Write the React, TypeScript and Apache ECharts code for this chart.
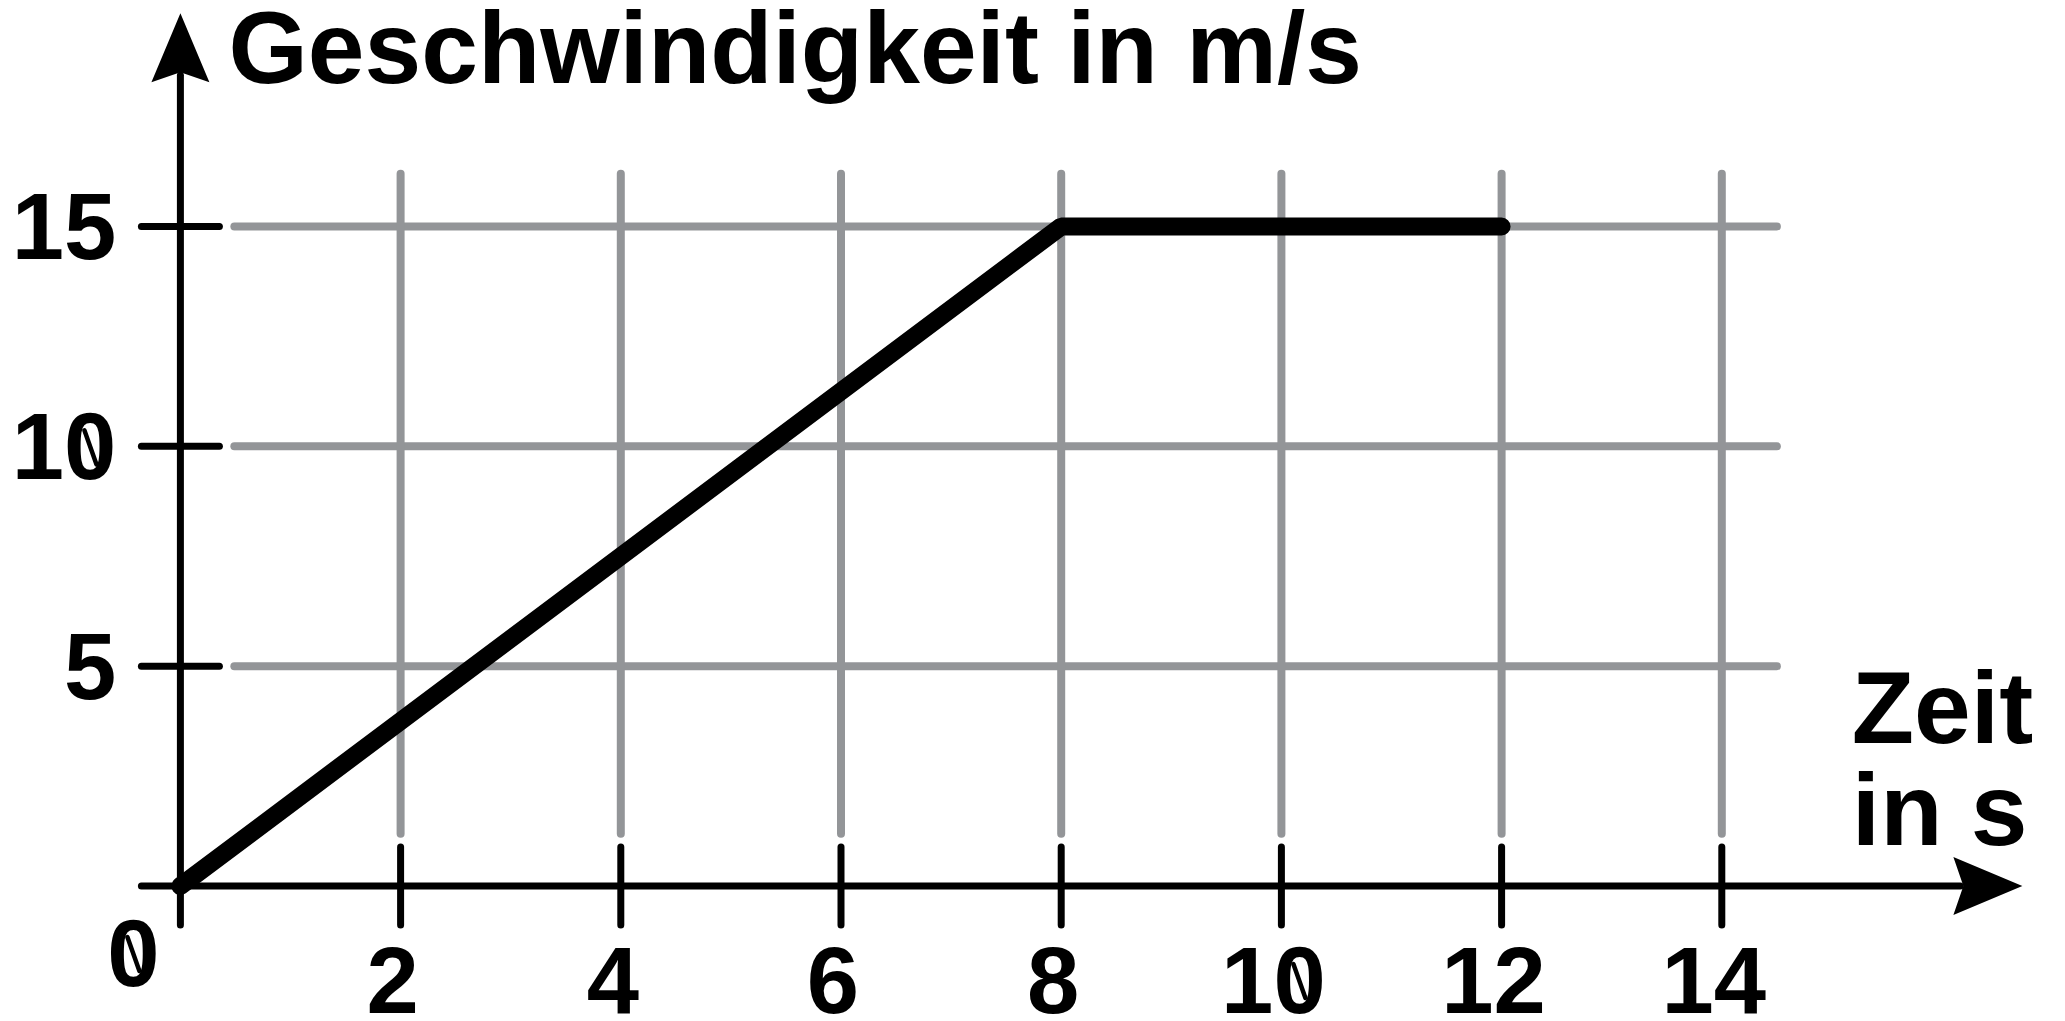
import React, { useEffect, useRef } from 'react';
import * as echarts from 'echarts';

const xTicks = [0, 2, 4, 6, 8, 10, 12, 14];
const yTicks = [5, 10, 15];
const timeValues = [0, 8, 12];
const speedValues = [0, 15, 15];
const yTitle = 'Geschwindigkeit in m/s';
const xTitle = 'Zeit\nin s';
const originLabel = '0';

const W = 2065;
const H = 1021;
const GRAY = '#939598';
const FONT = '"Liberation Sans", Arial, Helvetica, sans-serif';

export default function App() {
  const ref = useRef<HTMLDivElement>(null);
  useEffect(() => {
    const chart = echarts.init(ref.current as HTMLDivElement, null, { renderer: 'svg' });
    const gridExtent = { xFrom: 0.49, xTo: 14.5, yFrom: 1.19, yTo: 16.2 };
    const axisExtent = { xEnd: 16.73, yEnd: 19.85 };
    const tickHalf = 39;
    const xLabelMargin = 54;
    const yLabelMargin = 64;
    const labelLine = 80;
    const digitW = 52;

    const seg = (a: number[], b: number[], color: string, lw: number) => ({
      type: 'line',
      shape: { x1: a[0], y1: a[1], x2: b[0], y2: b[1] },
      style: { stroke: color, lineWidth: lw, lineCap: 'round' },
    });
    // slashed-zero stroke, as in the reference's digit style
    const slash = (cx: number, cy: number) => ({
      type: 'line',
      shape: { x1: cx - 6, y1: cy - 17, x2: cx + 6, y2: cy + 17 },
      style: { stroke: '#000', lineWidth: 4.5, lineCap: 'round' },
    });

    chart.setOption({
      animation: false,
      backgroundColor: '#fff',
      grid: { left: 180.4, right: 343.2, top: 226.5, bottom: 135, outerBoundsMode: 'none' },
      xAxis: {
        type: 'value',
        min: 0,
        max: 14,
        interval: 2,
        axisLine: { show: false },
        axisTick: { show: false },
        splitLine: { show: false },
        axisLabel: {
          margin: xLabelMargin,
          fontSize: 94,
          lineHeight: labelLine,
          fontWeight: 'bold',
          fontFamily: FONT,
          color: '#000',
          padding: [0, 16, 0, 0],
          formatter: (v: number) => (v === 0 ? '' : String(v)),
        },
      },
      yAxis: {
        type: 'value',
        min: 0,
        max: 15,
        interval: 5,
        axisLine: { show: false },
        axisTick: { show: false },
        splitLine: { show: false },
        axisLabel: {
          margin: yLabelMargin,
          fontSize: 94,
          lineHeight: labelLine,
          fontWeight: 'bold',
          fontFamily: FONT,
          color: '#000',
          showMinLabel: false,
          formatter: (v: number) => (v === 0 ? '' : String(v)),
        },
        name: yTitle,
        nameLocation: 'end',
        nameGap: 179,
        nameTextStyle: {
          fontSize: 102,
          lineHeight: 80,
          fontWeight: 'bold',
          fontFamily: FONT,
          color: '#000',
          align: 'left',
          verticalAlign: 'middle',
          padding: [0, 0, 0, 48],
        },
      },
      series: [
        {
          type: 'custom',
          coordinateSystem: 'cartesian2d',
          silent: true,
          z: 1,
          data: [[0, 0]],
          renderItem: (_p: any, api: any) => {
            const children: any[] = [];
            yTicks.forEach((v) => {
              children.push(seg(api.coord([gridExtent.xFrom, v]), api.coord([gridExtent.xTo, v]), GRAY, 8));
            });
            xTicks.forEach((v) => {
              if (v === 0) return;
              children.push(seg(api.coord([v, gridExtent.yFrom]), api.coord([v, gridExtent.yTo]), GRAY, 8));
            });
            return { type: 'group', children };
          },
        },
        {
          type: 'custom',
          coordinateSystem: 'cartesian2d',
          silent: true,
          z: 2,
          data: [[0, 0]],
          renderItem: (_p: any, api: any) => {
            const o = api.coord([0, 0]);
            const xe = api.coord([axisExtent.xEnd, 0]);
            const ye = api.coord([0, axisExtent.yEnd]);
            const xm = api.coord([14, 0]);
            const children: any[] = [];
            children.push(seg([o[0] - tickHalf, o[1]], [xe[0] - 62, o[1]], '#000', 7));
            children.push(seg([o[0], o[1] + tickHalf], [o[0], ye[1] + 62], '#000', 7));
            children.push({
              type: 'polygon',
              shape: { points: [[xe[0], o[1]], [xe[0] - 69, o[1] - 29], [xe[0] - 59, o[1]], [xe[0] - 69, o[1] + 29]] },
              style: { fill: '#000' },
            });
            children.push({
              type: 'polygon',
              shape: { points: [[o[0], ye[1]], [o[0] - 29, ye[1] + 69], [o[0], ye[1] + 59], [o[0] + 29, ye[1] + 69]] },
              style: { fill: '#000' },
            });
            xTicks.forEach((v) => {
              if (v === 0) return;
              const p = api.coord([v, 0]);
              children.push(seg([p[0], p[1] - tickHalf], [p[0], p[1] + tickHalf], '#000', 7));
              if (v === 10) {
                children.push(slash(p[0] - 8 + digitW / 2, p[1] + xLabelMargin + labelLine / 2 + 1));
              }
            });
            yTicks.forEach((v) => {
              const p = api.coord([0, v]);
              children.push(seg([p[0] - tickHalf, p[1]], [p[0] + tickHalf, p[1]], '#000', 7));
              if (v === 10) {
                children.push(slash(p[0] - yLabelMargin - digitW / 2, p[1] + 1));
              }
            });
            const zx = o[0] - 47;
            const zy = o[1] + 67;
            children.push({
              type: 'text',
              x: zx,
              y: zy,
              style: {
                text: originLabel,
                fontSize: 94,
                lineHeight: 80,
                fontWeight: 'bold',
                fontFamily: FONT,
                fill: '#000',
                align: 'center',
                verticalAlign: 'middle',
              },
            });
            children.push(slash(zx, zy + 1));
            children.push({
              type: 'text',
              x: xm[0] + 130,
              y: o[1] - 127,
              style: {
                text: xTitle,
                fontSize: 102,
                lineHeight: 102,
                fontWeight: 'bold',
                fontFamily: FONT,
                fill: '#000',
                align: 'left',
                verticalAlign: 'middle',
              },
            });
            return { type: 'group', children };
          },
        },
        {
          type: 'line',
          z: 3,
          clip: false,
          symbol: 'none',
          data: timeValues.map((t, i) => [t, speedValues[i]]),
          lineStyle: { color: '#000', width: 18, cap: 'round' },
        },
      ],
    });
    return () => chart.dispose();
  }, []);
  return (
    <div
      ref={ref}
      style={{ position: 'fixed', left: 0, top: 0, width: W + 'px', height: H + 'px', background: '#fff' }}
    />
  );
}
